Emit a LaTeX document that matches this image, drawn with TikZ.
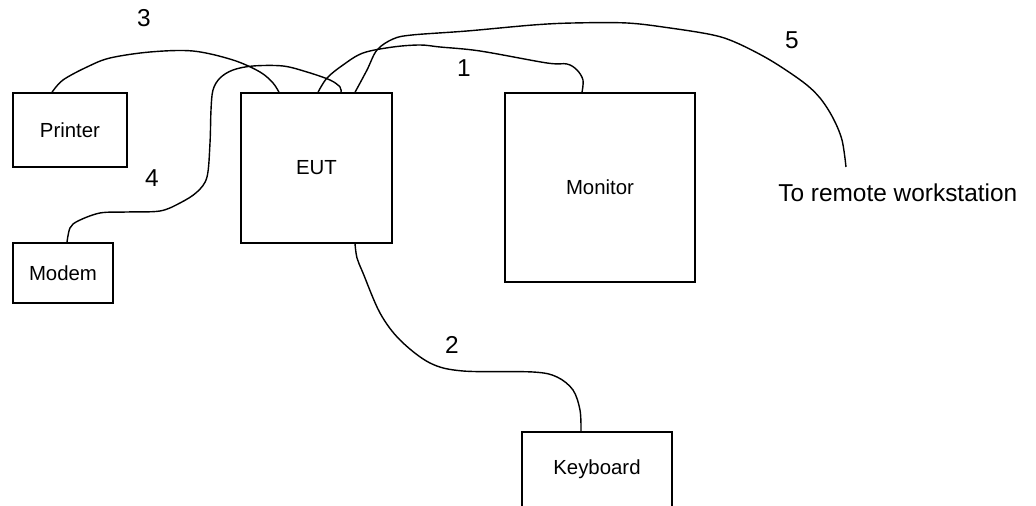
\documentclass[tikz,border=0pt]{standalone}
\usepackage{fontspec}
\setmainfont{Liberation Sans}
\usepackage{tikz}
\usetikzlibrary{calc,positioning}

\tikzset{
	unit/.style={draw, line width=0.8pt, inner sep=0pt, font=\fontsize{11.6}{14}\selectfont},
	cable/.style={line width=0.8pt, smooth, tension=0.55},
	num/.style={inner sep=0pt, anchor=base, font=\fontsize{13.9}{16}\selectfont},
}

\begin{document}
\begin{tikzpicture}[x=0.02cm, y=-0.02cm]
		\useasboundingbox (0,0) rectangle (1036,506);
		\clip (0,0) rectangle (1036,506);

		% units
		\node[unit, minimum width=2.28cm, minimum height=1.48cm] (printer) at (70,130) {Printer};
		\node[unit, minimum width=2cm, minimum height=1.2cm] (modem) at (63,273) {Modem};
		\node[unit, minimum width=3.02cm, minimum height=3cm] (eut) at (316.5,168) {EUT};
		\node[unit, minimum width=3.8cm, minimum height=3.78cm] (monitor) at (600,187.5) {Monitor};
		\node[unit, text width=3cm, align=center, text height=0.86cm, text depth=0.9cm] (keyboard) at (597,475) [anchor=base] {Keyboard};

		% cable ends
		\coordinate (p3) at (printer.north -| 52,0);
		\coordinate (e3) at (eut.north -| 279,0);
		\coordinate (m4) at (modem.north -| 67,0);
		\coordinate (e4) at (eut.north -| 341,0);
		\coordinate (e1) at (eut.north -| 318,0);
		\coordinate (m1) at (monitor.north -| 582,0);
		\coordinate (e5) at (eut.north -| 355,0);
		\coordinate (ws) at (846,167);
		\coordinate (e2) at (eut.south -| 355,0);
		\coordinate (k2) at (keyboard.north -| 581,0);

		% cables
		\draw[cable] plot coordinates {(p3) (63,80) (87,67) (110,58) (150,52) (193,51) (233,60) (260,72) (273,83) (e3)};
		\draw[cable] plot coordinates {(m4) (70,228) (78,221) (100,213) (127,212) (160,211) (180,203) (197,192) (207,177) (210,143) (211,110) (213,90) (220,78) (233,70) (253,66) (283,66) (307,72) (330,80) (340,87) (e4)};
		\draw[cable] plot coordinates {(e1) (327,78) (343,65) (363,53) (393,47) (420,45) (440,47) (480,51) (547,63) (567,64) (577,70) (583,80) (m1)};
		\draw[cable] plot coordinates {(e5) (367,70) (377,50) (393,39) (412,35) (467,31) (533,25) (573,23) (627,23) (670,28) (713,35) (737,43) (770,60) (803,82) (820,98) (833,118) (842,140) (ws)};
		\draw[cable] plot coordinates {(e2) (357,258) (363,273) (380,313) (400,340) (430,363) (463,371) (533,372) (557,377) (573,390) (580,410) (k2)};

		% cable numbers
		\node[num] (n1) at (464,77) {1};
		\node[num] (n2) at (452,354) {2};
		\node[num] (n3) at (144,27) {3};
		\node[num] (n4) at (152,187) {4};
		\node[num] (n5) at (792,49) {5};
		\node[num, anchor=base west] (remote) at (778,202) {To remote workstation};
	\end{tikzpicture}
\end{document}
